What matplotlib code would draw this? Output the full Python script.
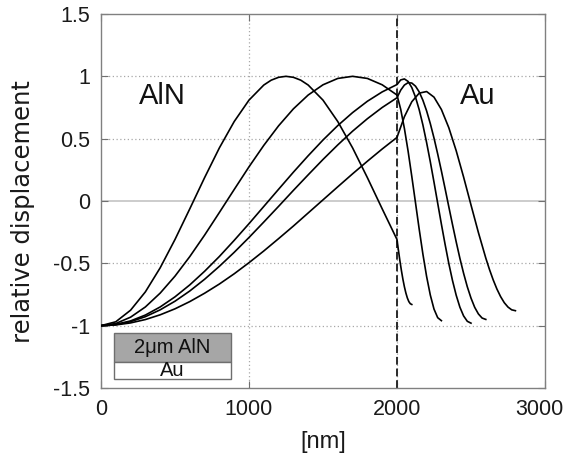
import matplotlib
matplotlib.use("Agg")
import matplotlib.pyplot as plt
import matplotlib.transforms as mtransforms
from matplotlib.patches import Rectangle

# ---------------- data ----------------
x_aln = [0, 100, 200, 300, 400, 500, 600, 700, 800, 900, 1000,
         1100, 1200, 1300, 1400, 1500, 1600, 1700, 1800, 1900, 2000]
xA_aln = [0, 100, 200, 300, 400, 500, 600, 700, 800, 900, 1000,
          1100, 1150, 1200, 1250, 1300, 1350, 1400, 1500, 1600, 1700, 1800, 1900, 2000]

A_aln = [-1.000, -0.969, -0.876, -0.729, -0.536, -0.309, -0.063, 0.187, 0.426, 0.637, 0.809,
         0.930, 0.969, 0.992, 1.000, 0.992, 0.969, 0.930, 0.809, 0.637, 0.426, 0.187, -0.063, -0.309]
B_aln = [-1.000, -0.983, -0.932, -0.850, -0.739, -0.603, -0.446, -0.274, -0.092, 0.092, 0.274,
         0.446, 0.603, 0.739, 0.850, 0.932, 0.983, 1.000, 0.983, 0.932, 0.850]
C_aln = [-1.000, -0.990, -0.962, -0.915, -0.850, -0.769, -0.673, -0.564, -0.445, -0.316, -0.182,
         -0.044, 0.094, 0.231, 0.363, 0.489, 0.605, 0.709, 0.800, 0.875, 0.934]
D_aln = [-1.000, -0.992, -0.968, -0.928, -0.873, -0.804, -0.722, -0.628, -0.524, -0.412, -0.293,
         -0.169, -0.043, 0.085, 0.210, 0.333, 0.450, 0.560, 0.660, 0.750, 0.828]
E_aln = [-1.000, -0.994, -0.978, -0.951, -0.913, -0.865, -0.807, -0.740, -0.666, -0.584, -0.495,
         -0.401, -0.302, -0.201, -0.096, 0.009, 0.114, 0.218, 0.319, 0.417, 0.510]

xA_au = [2000, 2010, 2020, 2030, 2040, 2050, 2060, 2070, 2080, 2090, 2100]
A_au = [-0.309, -0.398, -0.482, -0.559, -0.628, -0.688, -0.738, -0.778, -0.807, -0.824, -0.830]

xB_au = [2000, 2025, 2050, 2075, 2100, 2125, 2150, 2175, 2200, 2225, 2250, 2275, 2300]
B_au = [0.850, 0.736, 0.582, 0.400, 0.197, -0.014, -0.226, -0.426, -0.605, -0.754, -0.867, -0.936, -0.960]

xC_au = [2000, 2025, 2050, 2075, 2100, 2125, 2150, 2175, 2200, 2225, 2250,
         2275, 2300, 2325, 2350, 2375, 2400, 2425, 2450, 2475, 2500]
C_au = [0.934, 0.971, 0.979, 0.959, 0.910, 0.833, 0.732, 0.610, 0.469, 0.315, 0.151,
        -0.018, -0.186, -0.348, -0.501, -0.638, -0.756, -0.852, -0.922, -0.965, -0.980]

xD_au = [2000, 2025, 2050, 2075, 2100, 2125, 2150, 2175, 2200, 2225, 2250, 2275, 2300,
         2325, 2350, 2375, 2400, 2425, 2450, 2475, 2500, 2525, 2550, 2575, 2600]
D_au = [0.828, 0.889, 0.930, 0.949, 0.946, 0.921, 0.875, 0.808, 0.723, 0.621, 0.505, 0.377, 0.241,
        0.099, -0.046, -0.189, -0.328, -0.460, -0.580, -0.688, -0.779, -0.853, -0.906, -0.939, -0.950]

xE_au = [2000, 2050, 2100, 2150, 2200, 2250, 2300, 2350, 2400, 2450, 2500,
         2550, 2600, 2625, 2650, 2675, 2700, 2725, 2750, 2775, 2800]
E_au = [0.510, 0.676, 0.796, 0.865, 0.878, 0.833, 0.734, 0.588, 0.403, 0.192, -0.032,
        -0.253, -0.458, -0.550, -0.633, -0.706, -0.767, -0.816, -0.851, -0.873, -0.880]

curves = [
    (xA_aln, A_aln, xA_au, A_au),
    (x_aln, B_aln, xB_au, B_au),
    (x_aln, C_aln, xC_au, C_au),
    (x_aln, D_aln, xD_au, D_au),
    (x_aln, E_aln, xE_au, E_au),
]

x_ticks = [0, 1000, 2000, 3000]
x_ticklabels = ["0", "1000", "2000", "3000"]
y_ticks = [-1.5, -1, -0.5, 0, 0.5, 1, 1.5]
y_ticklabels = ["-1.5", "-1", "-0.5", "0", "0.5", "1", "1.5"]
interface_x = 2000

# ---------------- figure ----------------
plt.rcParams['font.family'] = ['Liberation Sans', 'DejaVu Sans']

fig = plt.figure(figsize=(5.66, 4.54), dpi=100)
ax = fig.add_axes([0.1784, 0.1454, 0.7845, 0.8238])

ax.set_xlim(0, 3000)
ax.set_ylim(-1.5, 1.5)

# grid
for xv in x_ticks[1:-1]:
    ax.axvline(xv, color='#a8a8a8', lw=0.9, ls=(0, (1, 2)), zorder=1)
for yv in y_ticks[1:-1]:
    if yv == 0:
        ax.axhline(yv, color='#c4c4c4', lw=1.2, ls='-', zorder=1)
    else:
        ax.axhline(yv, color='#a8a8a8', lw=0.9, ls=(0, (1, 2)), zorder=1)

# interface line
ax.axvline(interface_x, color='#2a2a2a', lw=1.4, ls=(0, (4, 2)), zorder=2)

# curves
for xal, aln, xau, au in curves:
    xs = list(xal) + list(xau[1:])
    ys = list(aln) + list(au[1:])
    ax.plot(xs, ys, color='black', lw=1.2, zorder=3)

# ticks & spines
ax.set_xticks(x_ticks)
ax.set_xticklabels(x_ticklabels)
ax.set_yticks(y_ticks)
ax.set_yticklabels(y_ticklabels)
ax.tick_params(direction='in', length=5, width=0.8, color='#707070',
               top=True, right=True, labelsize=15.5, labelcolor='#1a1a1a')
ax.tick_params(axis='x', pad=8)
ax.tick_params(axis='y', pad=8)
for sp in ax.spines.values():
    sp.set_color('#808080')
    sp.set_linewidth(1.0)

# keep the last x tick label inside the canvas
shift = mtransforms.ScaledTranslation(-4 / 72, 0, fig.dpi_scale_trans)
for lbl in ax.get_xticklabels():
    if lbl.get_text() == "3000":
        lbl.set_transform(lbl.get_transform() + shift)

ax.set_xlabel('[nm]', fontsize=17, color='#1a1a1a', labelpad=8)
fig.text(23 / 566, 1 - 212 / 454, 'relative displacement', rotation=90,
         ha='center', va='center', fontsize=17.5, color='#1a1a1a',
         family=['DejaVu Sans'])

# region labels
ax.text(416, 0.842, 'AlN', fontsize=21, ha='center', va='center', color='#111111')
ax.text(2546, 0.846, 'Au', fontsize=21, ha='center', va='center', color='#111111')

# layer-stack inset
ax.add_patch(Rectangle((91, -1.289), 785, 0.228, facecolor='#a6a6a6',
                       edgecolor='#6e6e6e', lw=1.0, zorder=4))
ax.add_patch(Rectangle((91, -1.430), 785, 0.141, facecolor='white',
                       edgecolor='#6e6e6e', lw=1.0, zorder=4))
ax.text(483, -1.175, '2\u03bcm AlN', fontsize=14.5, ha='center', va='center',
        color='#111111', zorder=5)
ax.text(483, -1.36, 'Au', fontsize=14.5, ha='center', va='center',
        color='#111111', zorder=5)

fig.savefig('out.png', dpi=100)
